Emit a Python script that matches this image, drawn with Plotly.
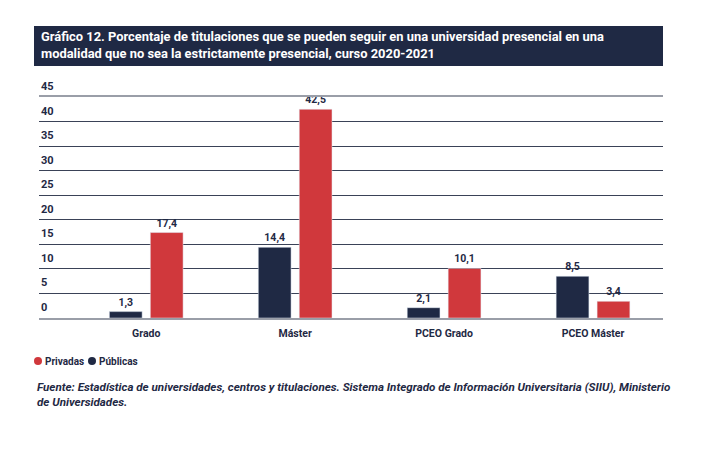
from plotly import graph_objs as go

# datos
categorias = ["Grado", "Máster", "PCEO Grado", "PCEO Máster"]
publicas = [1.3, 14.4, 2.1, 8.5]
privadas = [17.4, 42.5, 10.1, 3.4]
ticks_y = [0, 5, 10, 15, 20, 25, 30, 35, 40, 45]

titulo = ("Gráfico 12. Porcentaje de titulaciones que se pueden seguir en una universidad presencial en una<br>"
          "modalidad que no sea la estrictamente presencial, curso 2020-2021")
fuente = ("<i>Fuente: Estadística de universidades, centros y titulaciones. Sistema Integrado de Información "
          "Universitaria (SIIU), Ministerio<br>de Universidades.</i>")

NAVY = "#1f2944"
RED = "#d0383c"
FONT = "Roboto, Liberation Sans, sans-serif"

# the page adds an 8px body margin, so targets are shifted by it
OFF = 8
# plot area in screen pixels: x 39..663, y 97..318
PX0, PX1, PYT, PY0 = 39 - OFF, 663 - OFF, 97 - OFF, 318 - OFF
PW, PH = PX1 - PX0, PY0 - PYT


def fmt(v):
    return f"{v:.1f}".replace(".", ",")


def px_x(p):
    return (p - OFF - PX0) / PW


def px_y(p):
    return (PY0 - (p - OFF)) / PH


fig = go.Figure()
fig.add_trace(go.Bar(
    x=categorias, y=publicas, name="Públicas", marker_color=NAVY,
    text=[fmt(v) for v in publicas], textposition="outside", cliponaxis=False,
))
fig.add_trace(go.Bar(
    x=categorias, y=privadas, name="Privadas", marker_color=RED,
    text=[fmt(v) for v in privadas], textposition="outside", cliponaxis=False,
))
fig.update_traces(textfont=dict(family=FONT, size=10.5, color=NAVY, weight="bold"))

annotations = [
    dict(text=f"<b>{titulo}</b>", xref="paper", yref="paper", x=px_x(39), y=px_y(45.5),
         xanchor="left", yanchor="middle", align="left", showarrow=False,
         font=dict(family=FONT, size=12.9, color="white")),
    dict(text=f"<b>{fuente}</b>", xref="paper", yref="paper", x=px_x(35), y=px_y(378),
         xanchor="left", yanchor="top", align="left", showarrow=False,
         font=dict(family=FONT, size=11.6, color=NAVY)),
]
# etiquetas del eje y encima de cada linea
for t in ticks_y:
    annotations.append(dict(
        text=f"<b>{t}</b>", xref="paper", yref="y", x=0, y=t, yshift=2,
        xanchor="left", yanchor="bottom", showarrow=False,
        font=dict(family=FONT, size=11, color=NAVY)))

shapes = [dict(
    type="rect", xref="paper", yref="paper",
    x0=px_x(34), x1=px_x(663), y0=px_y(66), y1=px_y(26),
    fillcolor=NAVY, line=dict(width=0), layer="below",
)]
# leyenda
for name, color, mx in [("Privadas", RED, 38), ("Públicas", NAVY, 92)]:
    shapes.append(dict(
        type="circle", xref="paper", yref="paper", xsizemode="pixel", ysizemode="pixel",
        xanchor=px_x(mx), yanchor=px_y(361), x0=-4, x1=4, y0=-4, y1=4,
        fillcolor=color, line=dict(width=0)))
    annotations.append(dict(
        text=f"<b>{name}</b>", xref="paper", yref="paper", x=px_x(mx + 5), y=px_y(361.5),
        xanchor="left", yanchor="middle", showarrow=False,
        font=dict(family=FONT, size=10, color=NAVY)))

fig.update_layout(
    width=718, height=456,
    margin=dict(l=PX0, r=718 - PX1, t=PYT, b=456 - PY0, autoexpand=False),
    paper_bgcolor="white", plot_bgcolor="white",
    font=dict(family=FONT, color=NAVY, size=11),
    barmode="group", bargap=0.45, bargroupgap=0.2,
    showlegend=False,
    xaxis=dict(
        range=[-0.72, 3.47], showgrid=False, zeroline=False,
        showline=True, linecolor="#9a9ea8", linewidth=2, mirror=True,
        ticks="outside", ticklen=4, tickcolor="white",
        tickfont=dict(family=FONT, size=10.5, color=NAVY, weight="bold"),
        fixedrange=True,
    ),
    yaxis=dict(
        range=[0, 45], tickvals=ticks_y, showticklabels=False,
        showgrid=True, gridcolor="#3a4257", gridwidth=1,
        zeroline=False, showline=False, ticks="",
        fixedrange=True,
    ),
    shapes=shapes,
    annotations=annotations,
)

fig.write_html("out.html")
